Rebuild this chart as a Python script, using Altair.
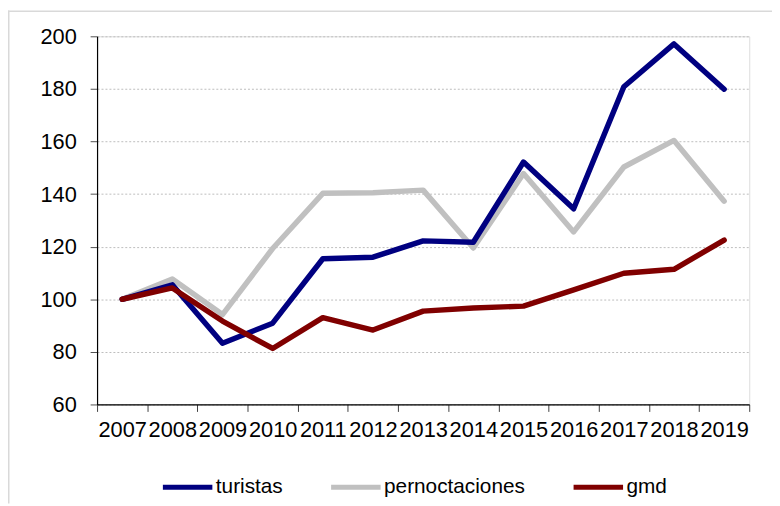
import altair as alt
import pandas as pd

years = ["2007", "2008", "2009", "2010", "2011", "2012", "2013",
         "2014", "2015", "2016", "2017", "2018", "2019"]
turistas = [100, 105.5, 83.3, 90.9, 115.4, 116.0, 122.2, 121.7, 152.2, 134.4, 180.8, 197.1, 179.9]
pernoctaciones = [100, 107.7, 94.2, 119.3, 140.3, 140.5, 141.5, 119.5, 147.8, 125.6, 150.3, 160.4, 137.3]
gmd = [100, 104.3, 91.7, 81.3, 93.0, 88.3, 95.5, 96.7, 97.4, 103.6, 109.9, 111.4, 122.5]

series_names = ["turistas", "pernoctaciones", "gmd"]
series_colors = ["#000080", "#C0C0C0", "#800000"]
y_ticks = [60, 80, 100, 120, 140, 160, 180, 200]

rows = []
for name, vals in zip(series_names, [turistas, pernoctaciones, gmd]):
    for yr, v in zip(years, vals):
        rows.append({"year": yr, "serie": name, "value": v})
df = pd.DataFrame(rows)

FONT = "Liberation Sans"
W, H = 659, 372

base = alt.Chart(df).mark_line(strokeWidth=5.5, strokeCap="round", strokeJoin="round").encode(
    x=alt.X("year:O", sort=years,
            scale=alt.Scale(type="band", paddingInner=0, paddingOuter=0),
            axis=alt.Axis(title=None, labelAngle=0, tickBand="extent", tickSize=7,
                          labelFontSize=22, labelFont=FONT, labelColor="black",
                          labelPadding=8, labelOverlap=False, domainColor="black",
                          domainWidth=1.2, tickColor="#404040", grid=False)),
    y=alt.Y("value:Q",
            scale=alt.Scale(domain=[60, 200], nice=False, zero=False),
            axis=alt.Axis(title=None, values=y_ticks, tickSize=7, labelPadding=14,
                          labelFontSize=22, labelFont=FONT, labelColor="black",
                          domainColor="black", domainWidth=1.2, tickColor="#505050",
                          grid=True, gridDash=[2, 2], gridColor="#bdbdbd", gridWidth=1)),
    color=alt.Color("serie:N",
                    scale=alt.Scale(domain=series_names, range=series_colors),
                    legend=alt.Legend(title=None, orient="none", legendX=64, legendY=428,
                                      direction="horizontal", symbolType="stroke",
                                      symbolSize=2500, symbolStrokeWidth=5,
                                      labelFontSize=21, labelFont=FONT, labelColor="black",
                                      columnPadding=38, labelOffset=1)),
)

layers = [base.transform_filter(alt.datum.serie == s)
          for s in ["pernoctaciones", "turistas", "gmd"]]

frame_df = pd.DataFrame({"k": [0]})
left_frame = alt.Chart(frame_df).mark_rule(color="#d9d9d9", strokeWidth=1.5).encode(
    x=alt.value(-89.25), y=alt.value(-26), y2=alt.value(H + 100))
top_frame = alt.Chart(frame_df).mark_rule(color="#d9d9d9", strokeWidth=1.5).encode(
    x=alt.value(-90), x2=alt.value(W + 23), y=alt.value(-25.25))

chart = alt.layer(left_frame, top_frame, *layers).properties(
    width=W, height=H,
    autosize=alt.AutoSizeParams(type="none"),
    padding={"left": 90, "top": 26, "right": 23, "bottom": 100},
).configure_view(strokeWidth=0).configure(background="white")

chart.save("out.html", embed_options={"renderer": "svg", "actions": False})
